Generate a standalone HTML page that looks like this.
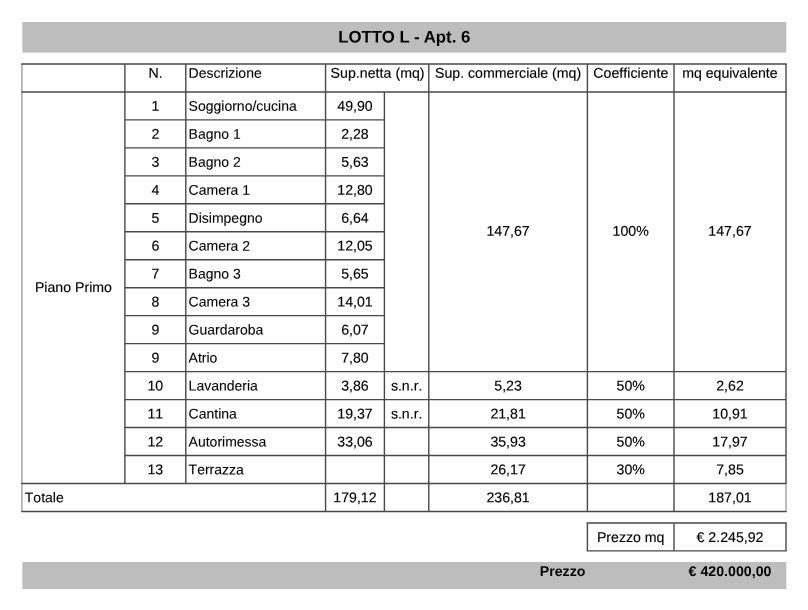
<!DOCTYPE html>
<html lang="it">
<head>
<meta charset="utf-8">
<title>LOTTO L - Apt. 6</title>
<style>
html,body{margin:0;padding:0;background:#fff;}
body{width:808px;height:610px;overflow:hidden;}
svg{display:block;}
.bar{fill:#bdbdbd;}
.ln{stroke:#484848;stroke-width:1.4;fill:none;}
.ll{stroke:#999999;stroke-width:1.3;fill:none;}
text{font-family:"Liberation Sans",Arial,Helvetica,sans-serif;font-size:14.15px;fill:#000;text-anchor:middle;font-kerning:none;font-variant-ligatures:none;text-rendering:geometricPrecision;white-space:pre;stroke:#000;stroke-width:0.15px;}
text.l{text-anchor:start;font-size:14.0px;stroke-width:0.1px;}
text.r{text-anchor:end;}
text.t{font-weight:bold;font-size:16.8px;font-kerning:normal;stroke:none;}
text.b{font-weight:bold;stroke:none;}
</style>
</head>
<body>
<svg width="808" height="610" viewBox="0 0 808 610">
<rect class="bar" x="22.35" y="22.0" width="763.95" height="30.55"/>
<rect class="bar" x="22.35" y="562.0" width="763.95" height="27.00"/>
<g class="ll"><line x1="21.90" y1="63.96" x2="21.90" y2="511.45"/><line x1="786.00" y1="484.18" x2="786.00" y2="510.75"/></g>
<g class="ln"><line x1="21.30" y1="63.96" x2="786.70" y2="63.96"/><line x1="21.30" y1="91.93" x2="786.70" y2="91.93"/><line x1="124.90" y1="119.90" x2="384.40" y2="119.90"/><line x1="124.90" y1="147.86" x2="384.40" y2="147.86"/><line x1="124.90" y1="175.83" x2="384.40" y2="175.83"/><line x1="124.90" y1="203.80" x2="384.40" y2="203.80"/><line x1="124.90" y1="231.77" x2="384.40" y2="231.77"/><line x1="124.90" y1="259.74" x2="384.40" y2="259.74"/><line x1="124.90" y1="287.70" x2="384.40" y2="287.70"/><line x1="124.90" y1="315.67" x2="384.40" y2="315.67"/><line x1="124.90" y1="343.64" x2="384.40" y2="343.64"/><line x1="124.90" y1="371.61" x2="786.00" y2="371.61"/><line x1="124.90" y1="399.58" x2="786.00" y2="399.58"/><line x1="124.90" y1="427.54" x2="786.00" y2="427.54"/><line x1="124.90" y1="455.51" x2="786.00" y2="455.51"/><line x1="21.30" y1="483.48" x2="786.70" y2="483.48"/><line x1="21.30" y1="511.45" x2="786.70" y2="511.45"/><line x1="786.00" y1="63.96" x2="786.00" y2="483.48"/><line x1="124.90" y1="63.96" x2="124.90" y2="483.48"/><line x1="185.80" y1="63.96" x2="185.80" y2="483.48"/><line x1="325.55" y1="63.96" x2="325.55" y2="511.45"/><line x1="384.40" y1="91.93" x2="384.40" y2="511.45"/><line x1="428.80" y1="63.96" x2="428.80" y2="511.45"/><line x1="587.40" y1="63.96" x2="587.40" y2="511.45"/><line x1="674.00" y1="63.96" x2="674.00" y2="511.45"/><line x1="586.70" y1="522.95" x2="786.70" y2="522.95"/><line x1="586.70" y1="550.90" x2="786.70" y2="550.90"/><line x1="587.40" y1="522.95" x2="587.40" y2="550.90"/><line x1="674.00" y1="522.95" x2="674.00" y2="550.90"/><line x1="786.00" y1="522.95" x2="786.00" y2="550.90"/></g>
<g class="tx">
<text class="t" x="404.30" y="42.50" transform="rotate(0.03 404.30 42.50)">LOTTO L - Apt. 6</text>
<text x="155.55" y="77.75" transform="rotate(0.03 155.55 77.75)">N.</text>
<text class="l" x="188.60" y="77.75" transform="rotate(0.03 188.60 77.75)">Descrizione</text>
<text x="377.59" y="77.75" transform="rotate(0.03 377.59 77.75)" style="letter-spacing:0.04px">Sup.netta (mq)</text>
<text x="508.10" y="77.75" transform="rotate(0.03 508.10 77.75)">Sup. commerciale (mq)</text>
<text x="630.81" y="77.75" transform="rotate(0.03 630.81 77.75)" style="letter-spacing:0.025px">Coefficiente</text>
<text x="729.98" y="77.75" transform="rotate(0.03 729.98 77.75)" style="letter-spacing:-0.05px">mq equivalente</text>
<text x="155.35" y="110.78" transform="rotate(0.03 155.35 110.78)">1</text>
<text class="l" x="188.60" y="110.78" transform="rotate(0.03 188.60 110.78)">Soggiorno/cucina</text>
<text x="354.98" y="110.78" transform="rotate(0.03 354.98 110.78)">49,90</text>
<text x="155.35" y="138.75" transform="rotate(0.03 155.35 138.75)">2</text>
<text class="l" x="188.60" y="138.75" transform="rotate(0.03 188.60 138.75)">Bagno 1</text>
<text x="354.98" y="138.75" transform="rotate(0.03 354.98 138.75)">2,28</text>
<text x="155.35" y="166.72" transform="rotate(0.03 155.35 166.72)">3</text>
<text class="l" x="188.60" y="166.72" transform="rotate(0.03 188.60 166.72)">Bagno 2</text>
<text x="354.98" y="166.72" transform="rotate(0.03 354.98 166.72)">5,63</text>
<text x="155.35" y="194.68" transform="rotate(0.03 155.35 194.68)">4</text>
<text class="l" x="188.60" y="194.68" transform="rotate(0.03 188.60 194.68)">Camera 1</text>
<text x="354.98" y="194.68" transform="rotate(0.03 354.98 194.68)">12,80</text>
<text x="155.35" y="222.65" transform="rotate(0.03 155.35 222.65)">5</text>
<text class="l" x="188.60" y="222.65" transform="rotate(0.03 188.60 222.65)">Disimpegno</text>
<text x="354.98" y="222.65" transform="rotate(0.03 354.98 222.65)">6,64</text>
<text x="155.35" y="250.62" transform="rotate(0.03 155.35 250.62)">6</text>
<text class="l" x="188.60" y="250.62" transform="rotate(0.03 188.60 250.62)">Camera 2</text>
<text x="354.98" y="250.62" transform="rotate(0.03 354.98 250.62)">12,05</text>
<text x="155.35" y="278.59" transform="rotate(0.03 155.35 278.59)">7</text>
<text class="l" x="188.60" y="278.59" transform="rotate(0.03 188.60 278.59)">Bagno 3</text>
<text x="354.98" y="278.59" transform="rotate(0.03 354.98 278.59)">5,65</text>
<text x="155.35" y="306.56" transform="rotate(0.03 155.35 306.56)">8</text>
<text class="l" x="188.60" y="306.56" transform="rotate(0.03 188.60 306.56)">Camera 3</text>
<text x="354.98" y="306.56" transform="rotate(0.03 354.98 306.56)">14,01</text>
<text x="155.35" y="334.52" transform="rotate(0.03 155.35 334.52)">9</text>
<text class="l" x="188.60" y="334.52" transform="rotate(0.03 188.60 334.52)">Guardaroba</text>
<text x="354.98" y="334.52" transform="rotate(0.03 354.98 334.52)">6,07</text>
<text x="155.35" y="362.49" transform="rotate(0.03 155.35 362.49)">9</text>
<text class="l" x="188.60" y="362.49" transform="rotate(0.03 188.60 362.49)">Atrio</text>
<text x="354.98" y="362.49" transform="rotate(0.03 354.98 362.49)">7,80</text>
<text x="155.35" y="390.46" transform="rotate(0.03 155.35 390.46)">10</text>
<text class="l" x="188.60" y="390.46" transform="rotate(0.03 188.60 390.46)">Lavanderia</text>
<text x="354.98" y="390.46" transform="rotate(0.03 354.98 390.46)">3,86</text>
<text x="406.60" y="390.46" transform="rotate(0.03 406.60 390.46)">s.n.r.</text>
<text x="508.10" y="390.46" transform="rotate(0.03 508.10 390.46)">5,23</text>
<text x="630.70" y="390.46" transform="rotate(0.03 630.70 390.46)">50%</text>
<text x="730.00" y="390.46" transform="rotate(0.03 730.00 390.46)">2,62</text>
<text x="155.35" y="418.43" transform="rotate(0.03 155.35 418.43)">11</text>
<text class="l" x="188.60" y="418.43" transform="rotate(0.03 188.60 418.43)">Cantina</text>
<text x="354.98" y="418.43" transform="rotate(0.03 354.98 418.43)">19,37</text>
<text x="406.60" y="418.43" transform="rotate(0.03 406.60 418.43)">s.n.r.</text>
<text x="508.10" y="418.43" transform="rotate(0.03 508.10 418.43)">21,81</text>
<text x="630.70" y="418.43" transform="rotate(0.03 630.70 418.43)">50%</text>
<text x="730.00" y="418.43" transform="rotate(0.03 730.00 418.43)">10,91</text>
<text x="155.35" y="446.40" transform="rotate(0.03 155.35 446.40)">12</text>
<text class="l" x="188.60" y="446.40" transform="rotate(0.03 188.60 446.40)">Autorimessa</text>
<text x="354.98" y="446.40" transform="rotate(0.03 354.98 446.40)">33,06</text>
<text x="508.10" y="446.40" transform="rotate(0.03 508.10 446.40)">35,93</text>
<text x="630.70" y="446.40" transform="rotate(0.03 630.70 446.40)">50%</text>
<text x="730.00" y="446.40" transform="rotate(0.03 730.00 446.40)">17,97</text>
<text x="155.35" y="474.36" transform="rotate(0.03 155.35 474.36)">13</text>
<text class="l" x="188.60" y="474.36" transform="rotate(0.03 188.60 474.36)">Terrazza</text>
<text x="508.10" y="474.36" transform="rotate(0.03 508.10 474.36)">26,17</text>
<text x="630.70" y="474.36" transform="rotate(0.03 630.70 474.36)">30%</text>
<text x="730.00" y="474.36" transform="rotate(0.03 730.00 474.36)">7,85</text>
<text x="73.45" y="292.00" transform="rotate(0.03 73.45 292.00)">Piano Primo</text>
<text x="508.10" y="235.87" transform="rotate(0.03 508.10 235.87)">147,67</text>
<text x="630.70" y="235.87" transform="rotate(0.03 630.70 235.87)">100%</text>
<text x="730.00" y="235.87" transform="rotate(0.03 730.00 235.87)">147,67</text>
<text class="l" x="24.80" y="502.33" transform="rotate(0.03 24.80 502.33)">Totale</text>
<text x="354.98" y="502.33" transform="rotate(0.03 354.98 502.33)">179,12</text>
<text x="508.10" y="502.33" transform="rotate(0.03 508.10 502.33)">236,81</text>
<text x="730.00" y="502.33" transform="rotate(0.03 730.00 502.33)">187,01</text>
<text x="630.70" y="542.00" transform="rotate(0.03 630.70 542.00)">Prezzo mq</text>
<text x="730.00" y="542.00" transform="rotate(0.03 730.00 542.00)">€ 2.245,92</text>
<text class="b r" x="585.40" y="576.00" transform="rotate(0.03 585.40 576.00)">Prezzo</text>
<text class="b" x="730.00" y="576.00" transform="rotate(0.03 730.00 576.00)" style="letter-spacing:0.02px">€ 420.000,00</text>
</g>
</svg>
</body>
</html>
